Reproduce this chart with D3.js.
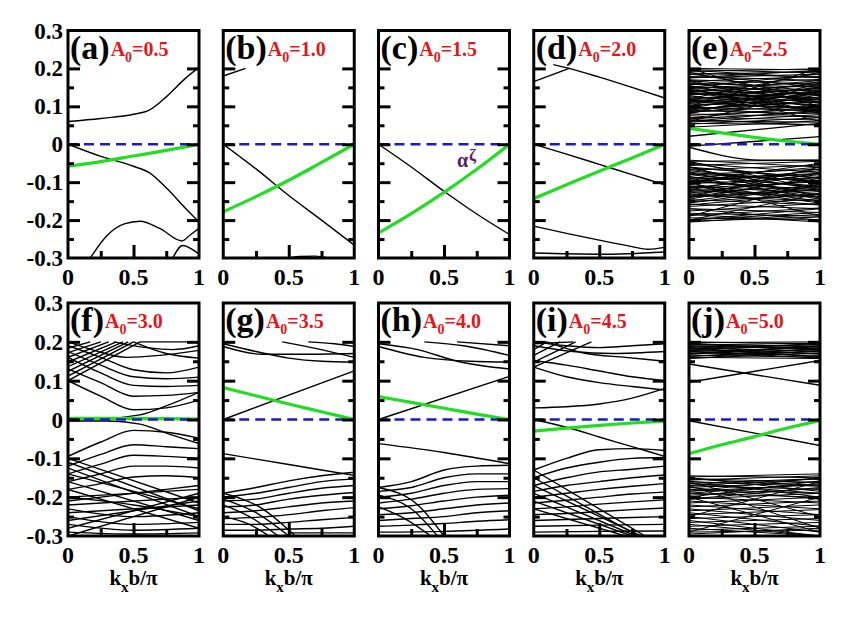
<!DOCTYPE html>
<html><head><meta charset="utf-8">
<script src="https://cdn.jsdelivr.net/npm/d3@7"></script>
</head><body style="margin:0;font-family:'Liberation Serif'">
<svg id="chart" width="867" height="623" font-family="Liberation Serif"><style>text{font-family:'Liberation Serif';font-weight:bold}</style></svg>
<script>
// ---------------- data ----------------
const panelLetters = ["a","b","c","d","e","f","g","h","i","j"];
const amplitudes = ["0.5","1.0","1.5","2.0","2.5","3.0","3.5","4.0","4.5","5.0"];
const kTicks = [0, 0.5, 1];
const kTickLabels = ["0", "0.5", "1"];
const eTicks = [0.3, 0.2, 0.1, 0, -0.1, -0.2, -0.3];
const eTickLabels = ["0.3", "0.2", "0.1", "0", "-0.1", "-0.2", "-0.3"];
const eMajor = [0.2, 0.1, 0, -0.1, -0.2];
const eMinor = [0.15, 0.05, -0.05, -0.15, -0.25];
const kMajor = [0.5];
const kMinor = [0.25, 0.75];

// bands as [k, E] points
const bandsA = [
  [[0,0.06],[0.25,0.068],[0.5,0.079],[0.62,0.09],[0.75,0.125],[0.9,0.175],[1,0.203]],
  [[0,0],[0.25,-0.032],[0.5,-0.058],[0.62,-0.075],[0.75,-0.115],[0.9,-0.17],[1,-0.205]],
  [[0.17,-0.3],[0.3,-0.24],[0.43,-0.21],[0.55,-0.203],[0.7,-0.222],[0.87,-0.255],[0.93,-0.24],[1,-0.222]],
  [[0.8,-0.3],[0.875,-0.267],[1,-0.29]]
];
const greenA = [[0,-0.058],[0.25,-0.046],[0.5,-0.031],[0.75,-0.016],[1,0]];

const bandsB = [
  [[0,0.18],[0.17,0.2]],
  [[0,0],[0.25,-0.065],[0.5,-0.135],[0.75,-0.2],[1,-0.266]],
  [[0.5,-0.3],[0.58,-0.296],[0.7,-0.295],[0.8,-0.3]]
];
const greenB = [[0,-0.178],[0.25,-0.138],[0.5,-0.095],[0.75,-0.048],[1,0]];

const bandsC = [
  [[0,0],[0.25,-0.06],[0.5,-0.124],[0.75,-0.184],[1,-0.238]]
];
const greenC = [[0,-0.234],[0.25,-0.183],[0.5,-0.127],[0.75,-0.066],[1,0]];

const bandsD = [
  [[0,0.165],[0.27,0.2]],
  [[0.15,0.21],[0.27,0.2],[0.5,0.177],[0.75,0.15],[1,0.122]],
  [[0,0],[0.25,-0.026],[0.5,-0.053],[0.75,-0.08],[1,-0.107]],
  [[0,-0.216],[0.25,-0.235],[0.5,-0.253],[0.75,-0.27],[0.87,-0.277],[1,-0.272]],
  [[0,-0.287],[0.5,-0.29],[1,-0.284]]
];
const greenD = [[0,-0.143],[0.25,-0.107],[0.5,-0.071],[0.75,-0.036],[1,0]];

// dense bands: [E at k=0, E at k=1]
const denseTopE = [
  [0.200,0.196],[0.197,0.188],[0.192,0.199],[0.188,0.176],[0.184,0.192],[0.179,0.168],[0.175,0.185],
  [0.170,0.158],[0.166,0.179],[0.161,0.150],[0.157,0.171],[0.152,0.140],[0.148,0.163],[0.143,0.131],
  [0.139,0.155],[0.134,0.122],[0.130,0.146],[0.125,0.113],[0.121,0.138],[0.116,0.104],[0.112,0.129],
  [0.107,0.096],[0.103,0.120],[0.098,0.088],[0.094,0.111],[0.089,0.080],[0.085,0.102],[0.080,0.072],
  [0.076,0.094],[0.071,0.064],[0.067,0.086],[0.062,0.058],[0.058,0.078],[0.053,0.070],[0.045,0.062],
  [0.19,0.12],[0.12,0.19],[0.17,0.08],[0.08,0.16],[0.15,0.06],[0.06,0.14],[0.2,0.1],[0.1,0.2],
  [0.165,0.11],[0.11,0.165],[0.155,0.095],[0.095,0.15],[0.145,0.085],[0.085,0.14],[0.135,0.1],
  [0.1,0.135],[0.128,0.09],[0.09,0.125],[0.118,0.083],[0.083,0.118],[0.16,0.13],[0.13,0.16],
  [0.15,0.118],[0.118,0.15],[0.142,0.108],[0.108,0.142],[0.185,0.15],[0.15,0.185],[0.195,0.175],
  [0.175,0.195],[0.07,0.1],[0.1,0.07],[0.06,0.09],[0.065,0.05],[0.055,0.052],[0.168,0.14],
  [0.14,0.168],[0.113,0.092],[0.092,0.113],[0.137,0.117],[0.117,0.137]
];
const denseBotE = [
  [-0.042,-0.06],[-0.045,-0.042],[-0.05,-0.075],[-0.056,-0.045],[-0.062,-0.088],[-0.068,-0.055],
  [-0.074,-0.1],[-0.08,-0.066],[-0.086,-0.11],[-0.092,-0.077],[-0.098,-0.12],[-0.104,-0.088],
  [-0.11,-0.13],[-0.116,-0.099],[-0.122,-0.14],[-0.128,-0.11],[-0.134,-0.15],[-0.14,-0.121],
  [-0.146,-0.16],[-0.152,-0.132],[-0.158,-0.17],[-0.164,-0.144],[-0.17,-0.18],[-0.176,-0.156],
  [-0.182,-0.19],[-0.188,-0.168],[-0.194,-0.2],[-0.2,-0.18],[-0.203,-0.192],
  [-0.06,-0.14],[-0.14,-0.06],[-0.1,-0.19],[-0.19,-0.1],[-0.045,-0.12],[-0.2,-0.13],
  [-0.065,-0.12],[-0.12,-0.065],[-0.075,-0.135],[-0.135,-0.075],[-0.085,-0.145],[-0.145,-0.085],
  [-0.095,-0.125],[-0.125,-0.095],[-0.105,-0.15],[-0.15,-0.105],[-0.07,-0.1],[-0.1,-0.07],
  [-0.08,-0.115],[-0.115,-0.08],[-0.09,-0.14],[-0.14,-0.09],[-0.11,-0.155],[-0.155,-0.11],
  [-0.06,-0.09],[-0.09,-0.06],[-0.13,-0.16],[-0.16,-0.13],[-0.17,-0.2],[-0.2,-0.17],
  [-0.185,-0.205],[-0.205,-0.185],[-0.05,-0.1],[-0.1,-0.05],[-0.118,-0.138],[-0.138,-0.118],
  [-0.078,-0.097],[-0.097,-0.078]
];
const bandsE = [
  [[0,0.021],[1,0.055]],
  [[0,-0.008],[0.55,-0.042],[1,-0.042]],
  [[0,-0.005],[1,0.02]]
];
const greenE = [[0,0.042],[0.25,0.03],[0.5,0.018],[0.75,0.008],[1,0]];

const bandsF = [
  [[0,0.1],[0.55,0.2]],[[0,0.112],[0.5,0.2]],[[0,0.124],[0.46,0.2]],[[0,0.136],[0.42,0.2]],
  [[0,0.148],[0.37,0.2]],[[0,0.16],[0.31,0.2]],[[0,0.172],[0.25,0.2]],[[0,0.184],[0.17,0.2]],
  [[0,0.2],[0.2,0.178],[0.45,0.16],[0.7,0.165],[1,0.178]],
  [[0,0.19],[0.25,0.16],[0.5,0.128],[0.75,0.12],[1,0.135]],
  [[0,0.175],[0.25,0.14],[0.5,0.11],[0.75,0.105],[1,0.109]],
  [[0,0.16],[0.25,0.12],[0.5,0.088],[0.75,0.085],[1,0.088]],
  [[0,0.13],[0.25,0.095],[0.5,0.06],[0.75,0.062],[1,0.07]],
  [[0,0.1],[0.25,0.06],[0.5,0.025],[0.75,0.03],[1,0.05]],
  [[0.55,0.2],[0.75,0.2],[1,0.2]],
  [[0.35,0.2],[0.6,0.185],[0.8,0.18],[1,0.19]],
  [[0.5,0.2],[0.75,0.17],[1,0.158]],
  [[0,0.004],[0.3,0.004],[0.55,0.012],[0.75,0.035],[1,0.07]],
  [[0,-0.004],[0.3,-0.004],[0.55,-0.012],[0.75,-0.035],[1,-0.062]],
  [[0,-0.095],[0.25,-0.058],[0.5,-0.028],[0.75,-0.033],[1,-0.048]],
  [[0,-0.12],[0.25,-0.09],[0.5,-0.065],[0.75,-0.07],[1,-0.075]],
  [[0,-0.14],[0.25,-0.115],[0.5,-0.092],[0.75,-0.095],[1,-0.1]],
  [[0,-0.16],[0.25,-0.14],[0.5,-0.12],[0.75,-0.12],[1,-0.125]],
  [[0,-0.18],[0.25,-0.165],[0.5,-0.148],[0.75,-0.145],[1,-0.15]],
  [[0,-0.1],[1,-0.215]],[[0,-0.11],[1,-0.235]],[[0,-0.125],[1,-0.25]],[[0,-0.14],[1,-0.23]],
  [[0,-0.16],[1,-0.26]],[[0,-0.18],[1,-0.28]],
  [[0,-0.3],[1,-0.2]],[[0,-0.28],[1,-0.19]],[[0,-0.26],[1,-0.21]],[[0,-0.24],[1,-0.22]],
  [[0,-0.22],[1,-0.2]],[[0,-0.2],[1,-0.18]],
  [[0,-0.23],[0.5,-0.25],[1,-0.24]],[[0,-0.25],[0.5,-0.27],[1,-0.265]],
  [[0,-0.27],[0.5,-0.285],[1,-0.28]],[[0,-0.29],[0.5,-0.295],[1,-0.292]],
  [[0,-0.2],[0.5,-0.22],[1,-0.25]],[[0,-0.21],[0.5,-0.19],[1,-0.17]]
];
const greenF = [[0,0.003],[0.25,0.003],[0.5,0.003],[0.75,0.002],[1,0.001]];

const bandsG = [
  [[0,0],[1,0.125]],
  [[0,0.195],[0.25,0.175],[0.5,0.158],[0.75,0.15],[1,0.148]],
  [[0,0.188],[0.3,0.168],[0.6,0.168],[1,0.17]],
  [[0.45,0.2],[0.75,0.18],[1,0.16]],
  [[0.65,0.2],[0.85,0.195],[1,0.188]],
  [[0,-0.088],[0.5,-0.116],[1,-0.144]],
  [[0,-0.19],[0.25,-0.175],[0.5,-0.158],[0.75,-0.145],[1,-0.136]],
  [[0,-0.2],[0.25,-0.19],[0.5,-0.175],[0.75,-0.16],[1,-0.153]],
  [[0,-0.21],[0.25,-0.205],[0.5,-0.19],[0.75,-0.177],[1,-0.17]],
  [[0,-0.225],[0.25,-0.22],[0.5,-0.205],[0.75,-0.195],[1,-0.188]],
  [[0,-0.24],[0.25,-0.235],[0.5,-0.225],[0.75,-0.215],[1,-0.21]],
  [[0,-0.255],[0.25,-0.252],[0.5,-0.245],[0.75,-0.235],[1,-0.227]],
  [[0,-0.27],[0.25,-0.27],[0.5,-0.265],[0.75,-0.258],[1,-0.252]],
  [[0,-0.285],[0.25,-0.285],[0.5,-0.282],[0.75,-0.28],[1,-0.275]],
  [[0,-0.19],[0.3,-0.23],[0.55,-0.3]],
  [[0,-0.205],[0.25,-0.24],[0.5,-0.3]],
  [[0,-0.22],[0.2,-0.25],[0.42,-0.3]],
  [[0,-0.25],[0.2,-0.27],[0.35,-0.3]],
  [[0.5,-0.292],[1,-0.292]]
];
const greenG = [[0,0.082],[0.25,0.061],[0.5,0.04],[0.75,0.02],[1,0]];

const bandsH = [
  [[0,0],[1,0.111]],
  [[0,0.195],[0.3,0.18],[0.6,0.15],[1,0.13]],
  [[0,0.188],[0.35,0.16],[0.7,0.15],[1,0.148]],
  [[0.35,0.2],[0.65,0.19],[1,0.165]],
  [[0.6,0.2],[1,0.19]],
  [[0,-0.062],[0.5,-0.085],[1,-0.114]],
  [[0,-0.175],[0.25,-0.16],[0.5,-0.13],[0.75,-0.12],[1,-0.118]],
  [[0,-0.185],[0.25,-0.175],[0.5,-0.15],[0.75,-0.14],[1,-0.14]],
  [[0,-0.2],[0.25,-0.19],[0.5,-0.17],[0.75,-0.16],[1,-0.16]],
  [[0,-0.215],[0.25,-0.205],[0.5,-0.19],[0.75,-0.18],[1,-0.178]],
  [[0,-0.23],[0.25,-0.222],[0.5,-0.21],[0.75,-0.2],[1,-0.195]],
  [[0,-0.245],[0.25,-0.24],[0.5,-0.23],[0.75,-0.22],[1,-0.215]],
  [[0,-0.26],[0.25,-0.255],[0.5,-0.25],[0.75,-0.24],[1,-0.235]],
  [[0,-0.275],[0.25,-0.272],[0.5,-0.268],[0.75,-0.262],[1,-0.258]],
  [[0,-0.29],[0.5,-0.288],[1,-0.282]],
  [[0,-0.175],[0.3,-0.22],[0.5,-0.3]],
  [[0,-0.195],[0.25,-0.23],[0.45,-0.3]],
  [[0,-0.225],[0.2,-0.255],[0.4,-0.3]]
];
const greenH = [[0,0.059],[0.25,0.044],[0.5,0.029],[0.75,0.014],[1,0]];

const bandsI = [
  [[0,0.195],[0.3,0.2]],
  [[0,0.135],[0.44,0.2]],[[0,0.148],[0.32,0.2]],[[0,0.165],[0.2,0.2]],[[0,0.18],[0.1,0.2]],
  [[0,0.2],[0.25,0.19],[0.5,0.185],[0.75,0.19],[1,0.195]],
  [[0,0.19],[0.3,0.175],[0.6,0.17],[1,0.175]],
  [[0.1,0.2],[0.4,0.17],[0.7,0.16],[1,0.15]],
  [[0,0.152],[0.25,0.14],[0.5,0.125],[0.75,0.11],[1,0.1]],
  [[0,0.135],[0.25,0.11],[0.5,0.095],[0.75,0.085],[1,0.076]],
  [[0,0.03],[0.25,0.033],[0.5,0.04],[0.75,0.055],[1,0.08]],
  [[0,0],[0.25,-0.02],[0.5,-0.045],[0.75,-0.07],[1,-0.095]],
  [[0,-0.13],[0.25,-0.1],[0.5,-0.078],[0.75,-0.075],[1,-0.08]],
  [[0,-0.15],[0.25,-0.125],[0.5,-0.11],[0.75,-0.1],[1,-0.098]],
  [[0,-0.17],[0.25,-0.15],[0.5,-0.135],[0.75,-0.128],[1,-0.12]],
  [[0,-0.185],[0.25,-0.17],[0.5,-0.16],[0.75,-0.15],[1,-0.143]],
  [[0,-0.2],[0.25,-0.19],[0.5,-0.18],[0.75,-0.172],[1,-0.165]],
  [[0,-0.215],[0.25,-0.208],[0.5,-0.2],[0.75,-0.192],[1,-0.187]],
  [[0,-0.23],[0.25,-0.225],[0.5,-0.218],[0.75,-0.212],[1,-0.207]],
  [[0,-0.245],[0.25,-0.242],[0.5,-0.237],[0.75,-0.232],[1,-0.228]],
  [[0,-0.26],[0.5,-0.255],[1,-0.25]],
  [[0,-0.275],[0.5,-0.272],[1,-0.27]],
  [[0,-0.29],[0.5,-0.288],[1,-0.287]],
  [[0,-0.13],[0.85,-0.3]],[[0,-0.15],[0.8,-0.3]],[[0,-0.17],[0.82,-0.3]],
  [[0,-0.19],[0.78,-0.3]],[[0,-0.21],[0.75,-0.3]],[[0,-0.23],[0.7,-0.3]]
];
const greenI = [[0,-0.03],[0.25,-0.022],[0.5,-0.015],[0.75,-0.009],[1,-0.004]];

const denseTopJ = [
  [0.2,0.195],[0.198,0.2],[0.195,0.188],[0.192,0.197],[0.19,0.182],[0.187,0.193],[0.184,0.176],
  [0.181,0.189],[0.178,0.17],[0.175,0.185],[0.172,0.165],[0.169,0.181],[0.166,0.16],[0.163,0.177],
  [0.16,0.157],[0.157,0.172],[0.185,0.16],[0.17,0.19],[0.196,0.178],[0.178,0.196],[0.188,0.168],
  [0.168,0.188],[0.182,0.162],[0.162,0.182],[0.176,0.158],[0.158,0.176],[0.193,0.183],[0.183,0.193]
];
const denseBotJ = [
  [-0.145,-0.15],[-0.148,-0.14],[-0.152,-0.162],[-0.156,-0.145],[-0.16,-0.172],[-0.165,-0.152],
  [-0.17,-0.18],[-0.175,-0.16],[-0.18,-0.19],[-0.185,-0.168],[-0.19,-0.2],[-0.195,-0.178],
  [-0.2,-0.215],[-0.205,-0.19],[-0.21,-0.23],[-0.215,-0.2],[-0.22,-0.245],[-0.225,-0.21],
  [-0.23,-0.26],[-0.235,-0.22],[-0.24,-0.275],[-0.245,-0.232],[-0.25,-0.29],[-0.255,-0.245],
  [-0.26,-0.3],[-0.265,-0.255],[-0.27,-0.3],[-0.275,-0.265],[-0.28,-0.3],[-0.285,-0.275],
  [-0.29,-0.285],[-0.295,-0.28],[-0.2,-0.29],[-0.29,-0.2],[-0.16,-0.25],[-0.25,-0.16],[-0.17,-0.28],
  [-0.15,-0.185],[-0.185,-0.15],[-0.158,-0.2],[-0.2,-0.158],[-0.165,-0.19],[-0.19,-0.165],
  [-0.175,-0.205],[-0.205,-0.175],[-0.153,-0.17],[-0.17,-0.153]
];
const bandsJ = [
  [[0,0.143],[1,0.088]],
  [[0,0.096],[1,0.152]],
  [[0,-0.003],[1,-0.067]]
];
const greenJ = [[0,-0.088],[0.25,-0.065],[0.5,-0.044],[0.75,-0.022],[1,-0.003]];

// ---------------- build ----------------
const pairToLine = p => [[0, p[0]], [1, p[1]]];
const panels = [
  {bands: bandsA, dense: [], green: greenA},
  {bands: bandsB, dense: [], green: greenB},
  {bands: bandsC, dense: [], green: greenC},
  {bands: bandsD, dense: [], green: greenD},
  {bands: bandsE, dense: denseTopE.concat(denseBotE).map(pairToLine), green: greenE},
  {bands: bandsF, dense: [], green: greenF},
  {bands: bandsG, dense: [], green: greenG},
  {bands: bandsH, dense: [], green: greenH},
  {bands: bandsI, dense: [], green: greenI},
  {bands: bandsJ, dense: denseTopJ.concat(denseBotJ).map(pairToLine), green: greenJ}
].map((p, i) => Object.assign(p, {letter: panelLetters[i], amp: amplitudes[i]}));

const FONT = "Liberation Serif";
const svg = d3.select("#chart");
const W = 131;
const colLeft = c => 68 + c * 155.25;
const rows = [{top: 30.5, bottom: 258}, {top: 303, bottom: 536}];
const RED = "#e3171b", BLUE = "#1a1acc", GREEN = "#22dd22", PURPLE = "#5a1d62";
const txt = (sel) => sel.attr("font-family", FONT).attr("font-weight", "bold");

const layerMarks = svg.append("g");
const layerText = svg.append("g").attr("font-family", FONT).attr("font-weight", "bold");

panels.forEach((p, i) => {
  const col = i % 5, row = Math.floor(i / 5);
  const x = d3.scaleLinear().domain([0, 1]).range([colLeft(col), colLeft(col) + W]);
  const y = d3.scaleLinear().domain([-0.3, 0.3]).range([rows[row].bottom, rows[row].top]);
  const g = layerMarks.append("g");
  const cid = "clip" + i;
  g.append("clipPath").attr("id", cid).append("rect")
    .attr("x", x(0)).attr("y", y(0.3)).attr("width", x(1) - x(0)).attr("height", y(-0.3) - y(0.3));
  const line = d3.line().x(d => x(d[0])).y(d => y(d[1])).curve(d3.curveMonotoneX);
  const lg = g.append("g").attr("clip-path", `url(#${cid})`);
  lg.selectAll("path.dense").data(p.dense).join("path").attr("class", "dense")
    .attr("d", line).attr("fill", "none").attr("stroke", "#000").attr("stroke-width", 1.0);
  lg.selectAll("path.band").data(p.bands).join("path").attr("class", "band")
    .attr("d", line).attr("fill", "none").attr("stroke", "#000").attr("stroke-width", 1.4);
  lg.append("path").datum(p.green).attr("d", line).attr("fill", "none")
    .attr("stroke", GREEN).attr("stroke-width", 3.2);
  lg.append("path").datum([[0, 0], [1, 0]]).attr("d", line).attr("fill", "none")
    .attr("stroke", BLUE).attr("stroke-width", 2.4).attr("stroke-dasharray", "10,6");

  // ticks
  const styleAxis = sel => { sel.select(".domain").remove(); sel.selectAll(".tick line").attr("stroke", "#000").attr("stroke-width", 3); sel.selectAll("text").remove(); };
  g.append("g").attr("transform", `translate(${x(0)},0)`).call(d3.axisLeft(y).tickValues(eMajor).tickSize(-12)).call(styleAxis);
  g.append("g").attr("transform", `translate(${x(0)},0)`).call(d3.axisLeft(y).tickValues(eMinor).tickSize(-6)).call(styleAxis);
  g.append("g").attr("transform", `translate(${x(1)},0)`).call(d3.axisRight(y).tickValues(eMajor).tickSize(-12)).call(styleAxis);
  g.append("g").attr("transform", `translate(${x(1)},0)`).call(d3.axisRight(y).tickValues(eMinor).tickSize(-6)).call(styleAxis);
  g.append("g").attr("transform", `translate(0,${y(-0.3)})`).call(d3.axisBottom(x).tickValues(kMajor).tickSize(-13)).call(styleAxis);
  g.append("g").attr("transform", `translate(0,${y(-0.3)})`).call(d3.axisBottom(x).tickValues(kMinor).tickSize(-7)).call(styleAxis);

  // frame
  g.append("rect").attr("x", x(0)).attr("y", y(0.3)).attr("width", x(1) - x(0)).attr("height", y(-0.3) - y(0.3))
    .attr("fill", "none").attr("stroke", "#000").attr("stroke-width", 3);

  // x tick labels (positions from the scale)
  layerText.selectAll(null).data(kTicks).enter().append("text").call(txt)
    .attr("x", d => x(d)).attr("y", y(-0.3) + 27).attr("text-anchor", "middle")
    .attr("font-size", 24).attr("fill", "#000").text((d, j) => kTickLabels[j]);

  // y tick labels
  if (col === 0) {
    layerText.selectAll(null).data(eTicks).enter().append("text").call(txt)
      .attr("x", x(0) - 5).attr("y", d => y(d) + 8).attr("text-anchor", "end")
      .attr("font-size", 23).attr("fill", "#000").text((d, j) => eTickLabels[j]);
  }

  // panel label + amplitude as one flowing text
  const lab = layerText.append("text").call(txt).attr("x", x(0) + 2).attr("y", y(0.3) + 28);
  lab.append("tspan").attr("font-size", 34).attr("fill", "#000").text(`(${p.letter})`);
  lab.append("tspan").attr("font-size", 20).attr("fill", RED).attr("dx", 1).attr("dy", -3).text("A");
  lab.append("tspan").attr("font-size", 14).attr("fill", RED).attr("dy", 6).text("0");
  lab.append("tspan").attr("font-size", 20).attr("fill", RED).attr("dy", -6).text("=" + p.amp);

  if (row === 1) {
    const t = layerText.append("text").call(txt).attr("x", (x(0) + x(1)) / 2).attr("y", 585)
      .attr("text-anchor", "middle").attr("font-size", 21).attr("fill", "#000");
    t.append("tspan").text("k");
    t.append("tspan").attr("font-size", 15).attr("dy", 7).text("x");
    t.append("tspan").attr("dy", -7).text("b/π");
  }
  if (p.letter === "c") {
    layerText.append("text").call(txt).attr("x", x(0.6)).attr("y", y(-0.06)).attr("font-size", 20)
      .attr("fill", PURPLE).text("α");
    layerText.append("text").call(txt).attr("x", x(0.69)).attr("y", y(-0.045)).attr("font-size", 17)
      .attr("fill", PURPLE).text("ζ");
  }
});
</script>
</body></html>
